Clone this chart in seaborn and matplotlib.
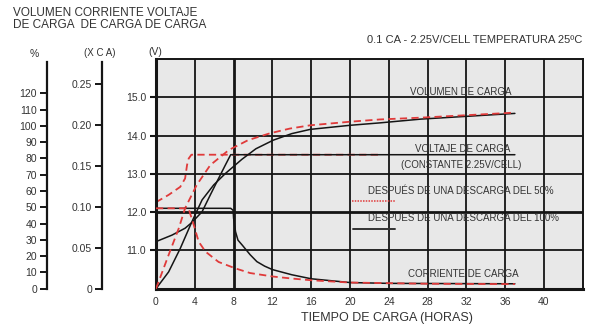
import matplotlib
matplotlib.use("Agg")
import matplotlib.pyplot as plt
import seaborn as sns

# ─── Data ────────────────────────────────────────────────────────────────────
# charge volume, %  (left-most axis)
hours_vol_50 = [0, 1.3, 2.35, 3.0, 4.2, 5.6, 7.5, 9.5, 11.75, 13.8, 15.9, 20, 23.1, 27.3, 32, 37]
vol_50 = [0, 20.7, 37.1, 49.4, 63.7, 75.9, 85.1, 91.2, 95.4, 98.3, 100.3, 102.5, 103.9, 105.0,
          106.5, 108.1]
hours_vol_100 = [0, 1.3, 2.5, 3.7, 4.75, 5.95, 7.15, 8.85, 10.3, 12.1, 14.0, 15.9, 20, 23.1,
                 27.3, 37]
vol_100 = [0, 10.3, 24.7, 41.1, 54.5, 63.7, 70.7, 79.4, 85.9, 91.2, 95.2, 97.8, 100.3, 101.8,
           104.1, 107.6]

# charge current, x CA
hours_cur_50 = [0, 3.35, 3.9, 4.4, 5.1, 6.45, 8.2, 9.7, 12, 14, 16, 20, 28, 37]
cur_50 = [0.098, 0.098, 0.0774, 0.0573, 0.0452, 0.0326, 0.0247, 0.0191, 0.0149, 0.0124, 0.0103,
          0.0075, 0.006, 0.0056]
hours_cur_100 = [0, 7.7, 7.95, 8.0, 8.2, 8.45, 8.9, 9.7, 10.4, 11.2, 12, 14, 16, 20, 24, 37]
cur_100 = [0.098, 0.098, 0.0956, 0.0857, 0.0694, 0.0592, 0.053, 0.0415, 0.033, 0.0275, 0.0233,
           0.017, 0.0121, 0.0075, 0.0065, 0.006]

# charge voltage, V
hours_volt_50 = [0, 1.3, 2.5, 3.0, 3.2, 3.37, 3.65, 23]
volt_50 = [12.26, 12.45, 12.66, 12.88, 13.23, 13.4, 13.5, 13.5]
hours_volt_100 = [0, 1.65, 3.0, 3.7, 4.75, 5.6, 6.45, 7.15, 7.7, 37]
volt_100 = [11.23, 11.4, 11.58, 11.73, 12.01, 12.45, 12.88, 13.23, 13.5, 13.5]

hour_ticks = [0, 4, 8, 12, 16, 20, 24, 28, 32, 36, 40]
volt_ticks = [11.0, 12.0, 13.0, 14.0, 15.0]
pct_ticks = list(range(0, 130, 10))
ca_ticks = [0, 0.05, 0.10, 0.15, 0.20, 0.25]
ca_labels = ["0", "0.05", "0.10", "0.15", "0.20", "0.25"]

# ─── Style ───────────────────────────────────────────────────────────────────
RED = "#e03a3a"
BLACK = "#151515"
BG = "#e8e8e8"
INK = "#333333"
W, H = 592, 328
sns.set_theme(style="white")
plt.rcParams["font.family"] = ["Liberation Sans Narrow", "Liberation Sans", "DejaVu Sans"]

fig = plt.figure(figsize=(W / 100, H / 100), dpi=100)
fig.patch.set_facecolor("white")
rect = [156 / W, 1 - 288.7 / H, 426.8 / W, 229.7 / H]

ax = fig.add_axes(rect)
ax_pct = fig.add_axes(rect)
ax_ca = fig.add_axes(rect)

dash = (0, (4, 2.4))
line_kw = dict(sort=False, estimator=None)

sns.lineplot(x=hours_volt_50, y=volt_50, ax=ax, color=RED, lw=1.3, linestyle=dash, **line_kw)
sns.lineplot(x=hours_volt_100, y=volt_100, ax=ax, color=BLACK, lw=1.1, **line_kw)
sns.lineplot(x=hours_vol_100, y=vol_100, ax=ax_pct, color=BLACK, lw=1.1, **line_kw)
sns.lineplot(x=hours_vol_50, y=vol_50, ax=ax_pct, color=RED, lw=1.3, linestyle=dash, **line_kw)
sns.lineplot(x=hours_cur_100, y=cur_100, ax=ax_ca, color=BLACK, lw=1.1, **line_kw)
sns.lineplot(x=hours_cur_50, y=cur_50, ax=ax_ca, color=RED, lw=1.3, linestyle=dash, **line_kw)

# main voltage axis with the heavy grid
ax.set_facecolor(BG)
ax.set_xlim(0, 44)
ax.set_ylim(10, 16)
ax.set_xticks(hour_ticks)
ax.set_yticks(volt_ticks)
ax.set_yticklabels([f"{v:.1f}" for v in volt_ticks])
ax.set_xlabel("")
ax.set_ylabel("")
for x in range(4, 44, 4):
    ax.axvline(x, color=BLACK, lw=2.0 if x == 8 else 1.3, zorder=0.5)
for y in [11, 12, 13, 14, 15]:
    ax.axhline(y, color=BLACK, lw=2.0 if y == 12 else 1.3, zorder=0.5)
for side, sp in ax.spines.items():
    sp.set_color(BLACK)
    sp.set_linewidth(2.2 if side in ("left", "bottom") else 1.4)
ax.tick_params(axis="y", left=True, length=4.5, width=1.5, color=BLACK, pad=2.5,
               labelsize=7.5, labelcolor=INK)
ax.tick_params(axis="x", bottom=False, length=0, pad=6, labelsize=7.5, labelcolor=INK)

# overlay axes: % and x CA scales, only a free-standing left spine
for a, ylim, pos, top, ticks in [(ax_pct, (0, 141), -0.256, 139, pct_ticks),
                                 (ax_ca, (0, 0.28), -0.127, 0.276, ca_ticks)]:
    a.patch.set_visible(False)
    a.set_xlim(0, 44)
    a.set_ylim(*ylim)
    a.set_xlabel("")
    a.set_ylabel("")
    for side in ("top", "right", "bottom"):
        a.spines[side].set_visible(False)
    a.spines["left"].set_position(("axes", pos))
    a.spines["left"].set_bounds(0, top)
    a.spines["left"].set_color(BLACK)
    a.spines["left"].set_linewidth(1.6)
    a.set_yticks(ticks)
    a.tick_params(axis="x", bottom=False, labelbottom=False)
    a.tick_params(axis="y", left=True, length=5, width=1.4, color=BLACK, pad=2,
                  labelsize=7.5, labelcolor=INK)
ax_ca.set_yticklabels(ca_labels)


def ftext(x, y, s, ha="center", size=7.5, **kw):
    fig.text(x / W, 1 - y / H, s, ha=ha, va="center", fontsize=size, color=INK, **kw)


# headings and axis units
ftext(13, 13, "VOLUMEN CORRIENTE VOLTAJE", ha="left", size=8.5)
ftext(13, 25, "DE CARGA  DE CARGA DE CARGA", ha="left", size=8.5)
ftext(582, 40, "0.1 CA - 2.25V/CELL TEMPERATURA 25ºC", ha="right", size=8)
ftext(34, 54, "%", size=7.5)
ftext(100, 53, "(X C A)", size=7)
ftext(155, 52, "(V)", size=7.5)
ftext(387, 318, "TIEMPO DE CARGA (HORAS)", size=9)

# curve annotations
ftext(461, 92, "VOLUMEN DE CARGA", size=7)
ftext(463, 149, "VOLTAJE DE CARGA", size=7)
ftext(461, 165, "(CONSTANTE 2.25V/CELL)", size=7)
ftext(461, 191, "DESPUÉS DE UNA DESCARGA DEL 50%", size=7)
ftext(463, 218, "DESPUÉS DE UNA DESCARGA DEL 100%", size=7)
ftext(463, 274, "CORRIENTE DE CARGA", size=7)

# legend keys
fig.add_artist(plt.Line2D([352 / W, 396 / W], [1 - 201 / H] * 2, color=RED, lw=1.1,
                          linestyle=(0, (1, 0.8))))
fig.add_artist(plt.Line2D([353 / W, 395 / W], [1 - 229 / H] * 2, color=INK, lw=1.4))

plt.savefig("out.png", dpi=100)
plt.close()
